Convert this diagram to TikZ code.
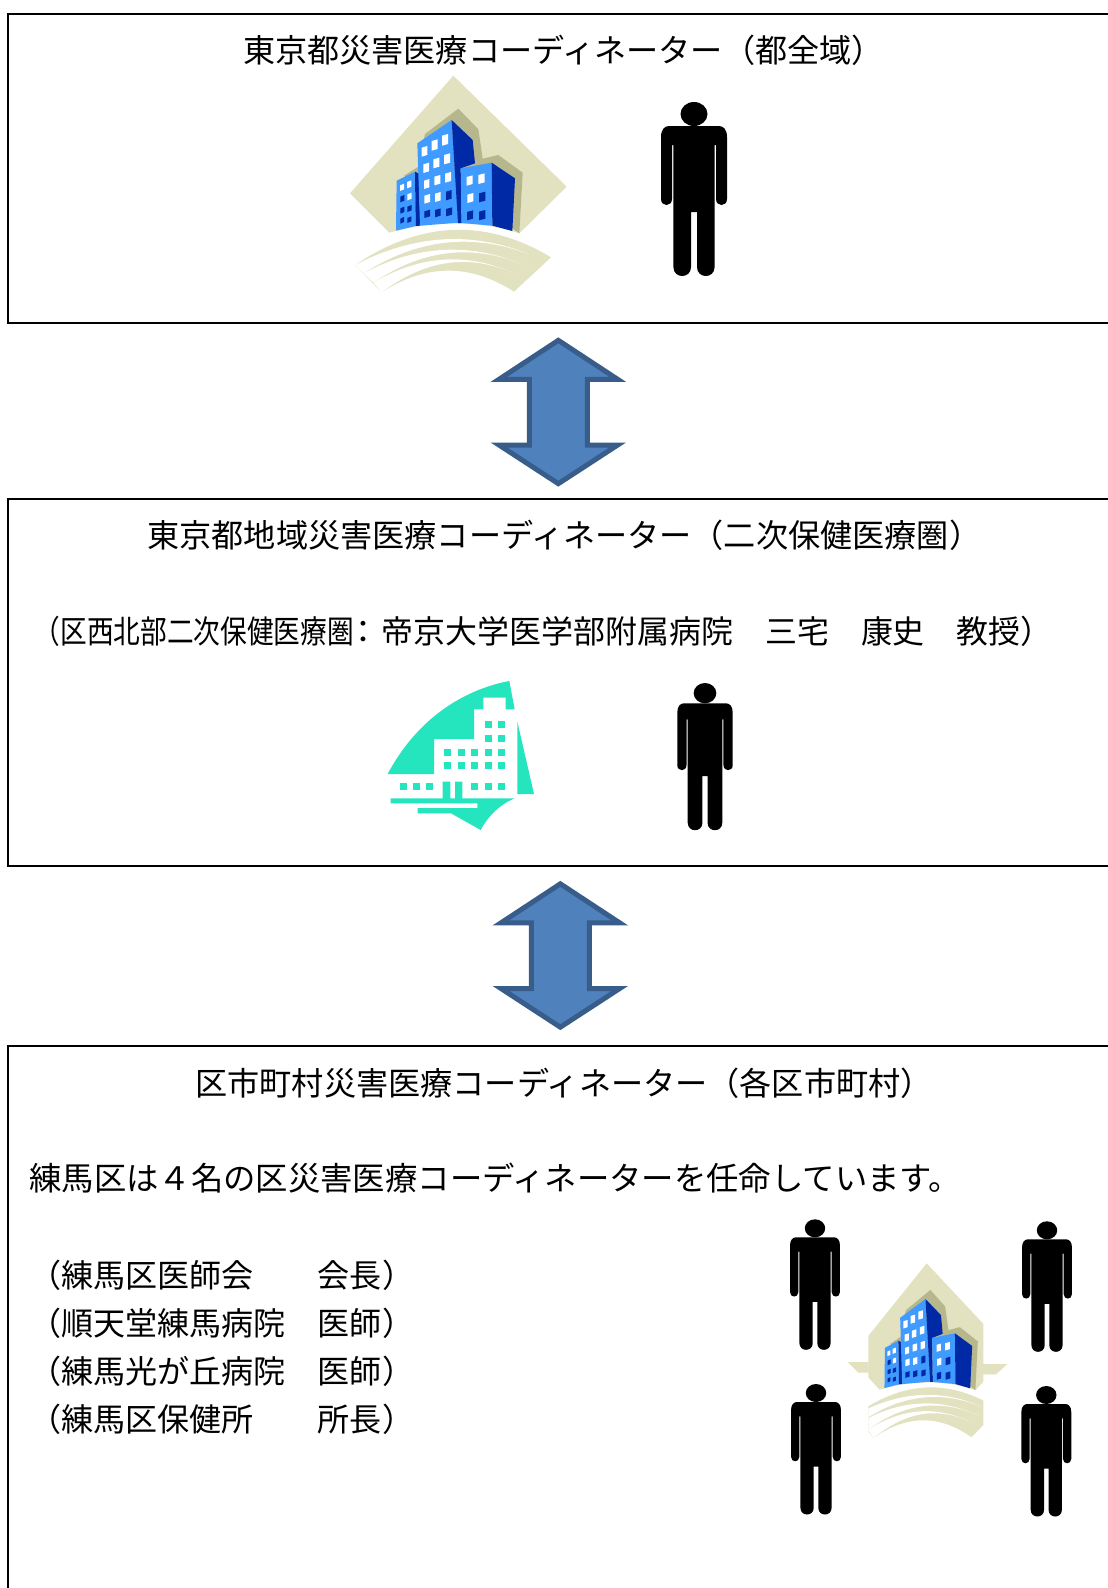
\documentclass[tikz,border=0pt]{standalone}
\usepackage{fontspec}
\setmainfont{Noto Sans CJK JP}
\definecolor{beige}{HTML}{E2E1C0}
\definecolor{bldgshadow}{HTML}{B7B78E}
\definecolor{lightblue}{HTML}{3F9BFF}
\definecolor{darkblue}{HTML}{0029A6}
\definecolor{teal1}{HTML}{24E5BE}
\definecolor{arrowfill}{HTML}{4F81BD}
\definecolor{arrowline}{HTML}{385D8A}
\newcommand{\figman}[4]{%
\begin{scope}[shift={(#1,#2)},xscale=#3,yscale=#4]
\fill[black] (0,12) ellipse [x radius=13.5,y radius=12];
\fill[black] (-33,35) .. controls (-33,27) and (-29,24) .. (-25,24) -- (25,24) .. controls (29,24) and (33,27) .. (33,35)
 -- (33,97) .. controls (33,105) and (22,105) .. (22,97) -- (22,43) -- (20.6,43) -- (20.6,165)
 .. controls (20.6,177) and (3,177) .. (3,165) -- (3,110) -- (-3,110) -- (-3,165)
 .. controls (-3,177) and (-20.6,177) .. (-20.6,165) -- (-20.6,43) -- (-22,43) -- (-22,97)
 .. controls (-22,105) and (-33,105) .. (-33,97) -- cycle;
\end{scope}}
\newcommand{\win}[5]{\fill[#1] (#2,#4) -- (#3,#4-5) -- (#3,#4-5+#5) -- (#2,#4+#5) -- cycle;}
\newcommand{\bldg}{%
\fill[beige] (370,47) -- (710,380) -- (568,520) .. controls (440,478) and (300,485) .. (178,518) -- (60,400) -- cycle;
\fill[bldgshadow] (285,222) -- (385,146) -- (445,208) -- (458,296) -- (505,285) -- (578,338) -- (568,520) -- (547,505) -- (300,420) -- (222,347) -- (265,320) -- cycle;
% left block
\fill[lightblue] (200,362) -- (255,335) -- (257,498) -- (198,512) -- cycle;
\fill[darkblue] (255,335) -- (268,342) -- (270,497) -- (257,498) -- cycle;
% middle block
\fill[lightblue] (262,250) -- (365,180) -- (385,488) -- (270,497) -- cycle;
\fill[darkblue] (365,180) -- (428,240) -- (435,310) -- (392,325) -- (395,489) -- (384,489) -- cycle;
% right block
\fill[lightblue] (392,325) -- (485,308) -- (487,497) -- (395,489) -- cycle;
\fill[darkblue] (485,308) -- (555,355) -- (547,513) -- (487,497) -- cycle;
% windows, middle
\win{white}{275}{292}{263}{27}\win{white}{305}{323}{243}{29}\win{white}{336}{354}{227}{30}
\win{white}{280}{297}{313}{26}\win{white}{310}{328}{298}{27}\win{white}{342}{360}{285}{28}
\win{white}{282}{298}{362}{25}\win{white}{313}{331}{350}{26}\win{white}{345}{363}{341}{27}
\win{white}{283}{300}{407}{24}\win{white}{315}{332}{401}{25}\win{darkblue}{348}{365}{395}{26}
\win{darkblue}{283}{300}{454}{20}\win{darkblue}{315}{332}{450}{22}\win{darkblue}{348}{366}{447}{22}
% windows, right
\win{white}{410}{428}{351}{26}\win{white}{445}{464}{345}{27}
\win{white}{412}{430}{404}{25}\win{darkblue}{447}{466}{400}{27}
\win{darkblue}{411}{429}{456}{25}\win{darkblue}{447}{466}{455}{26}
% windows, left
\win{white}{210}{222}{376}{17}\win{white}{231}{244}{366}{19}
\win{darkblue}{211}{223}{410}{17}\win{white}{232}{245}{403}{18}
\win{darkblue}{211}{223}{445}{16}\win{darkblue}{232}{245}{440}{16}
\win{darkblue}{211}{222}{476}{15}\win{darkblue}{232}{244}{474}{15}
% swoosh
\fill[beige] (75,615) .. controls (272.3,482.3) and (468.3,474.7) .. (663,592) -- (552,695) .. controls (420.7,610.3) and (288.3,611) .. (155,697) -- cycle;
\fill[white] (75,615) .. controls (251.7,523.7) and (425,512.7) .. (595,582) .. controls (425,518) and (260,537.3) .. (100,640) -- cycle;
\fill[white] (100,640) .. controls (260,554.7) and (421.3,546.3) .. (582,615) .. controls (427.3,550.3) and (276.7,568) .. (130,668) -- cycle;
\fill[white] (130,668) .. controls (270,585.3) and (410.7,576) .. (552,640) .. controls (417.3,580) and (285,599) .. (155,697) -- cycle;
}
\newcommand{\dblarrow}[2]{%
\begin{scope}[shift={(#1,#2)},xscale=1/3,yscale=1/3]
\path[fill=arrowfill,draw=arrowline,line width=5pt,miter limit=10]
 (265,61) -- (443,178) -- (352,178) -- (352,375) -- (443,375) -- (265,491) -- (87,375) -- (178,375) -- (178,178) -- (87,178) -- cycle;
\end{scope}}
\tikzset{
  boxline/.style={draw=black,line width=2.3pt,line join=miter},
  textline/.style={anchor=base west,inner sep=0pt,outer sep=0pt,font=\fontsize{32.15pt}{34pt}\selectfont,text=black},
  listline/.style={textline,font=\fontsize{32.05pt}{34pt}\selectfont}
}
\begin{document}
\begin{tikzpicture}[x=1pt,y=-1pt]
\useasboundingbox (0,0) rectangle (1108,1588);
% frames
\draw[boxline] (1108,14) -- (8,14) -- (8,323) -- (1108,323);
\draw[boxline] (1108,499) -- (8,499) -- (8,866) -- (1108,866);
\draw[boxline] (1108,1046) -- (8,1046) -- (8,1588);
% arrows
\dblarrow{470}{320}
\dblarrow{472}{863.5}
% top
\node[textline] (t1) at (243,62) {東京都災害医療コーディネーター（都全域）};
\begin{scope}[shift={(330,60)},xscale=1/3,yscale=1/3]\bldg\end{scope}
\figman{694}{102}{1}{1}
% middle
\node[textline] (t2) at (147.5,547) {東京都地域災害医療コーディネーター（二次保健医療圏）};
\node[listline,font=\fontsize{31.95pt}{34pt}\selectfont] (t2b) at (33.7,643) {\scalebox{0.835}[1]{（区西北部二次保健医療圏}\kern-6pt ：\kern2pt 帝京大学医学部附属病院　三宅　康史　教授）};
\begin{scope}[shift={(370,670)},xscale=1/3,yscale=1/3]
\fill[teal1] (53,312) .. controls (150,130) and (300,55) .. (418,33) -- (434,118) -- (407,118) -- (407,83) -- (340,83) -- (340,118) -- (312,118) -- (312,207) -- (192,207) -- (192,312) -- cycle;
\fill[teal1] (442,155) -- (492,372) -- (442,372) -- cycle;
\fill[teal1] (62,385) -- (218,385) -- (218,335) -- (241,335) -- (241,385) -- (255,385) -- (255,335) -- (277,335) -- (277,385) -- (434,385)
 .. controls (385,405) and (350,445) .. (332,480) -- (243,430) -- (143,430) -- (143,414) -- (322,414) -- (322,400) -- (62,400) -- cycle;
\foreach \x/\y in {345/152,384/152,345/195,384/195,222/237,264/237,303/237,345/237,384/237,222/276,264/276,303/276,345/276,384/276,90/339,129/339,168/339,303/339,345/339,384/339}
  \fill[teal1] (\x,\y) rectangle ++(21,21);
\end{scope}
\figman{705}{683}{0.84}{0.846}
% bottom
\node[textline] (t3) at (195.5,1095) {区市町村災害医療コーディネーター（各区市町村）};
\node[textline,font=\fontsize{32.35pt}{34pt}\selectfont] (t4) at (29.5,1190) {練馬区は４名の区災害医療コーディネーターを任命しています。};
\node[listline] (l1) at (29.5,1287) {（練馬区医師会　　会長）};
\node[listline] (l2) at (29.5,1335) {（順天堂練馬病院　医師）};
\node[listline] (l3) at (29.5,1383) {（練馬光が丘病院　医師）};
\node[listline] (l4) at (29.5,1431) {（練馬区保健所　　所長）};
\figman{815}{1219.3}{0.757}{0.75}
\figman{1047}{1221.3}{0.757}{0.75}
\figman{816}{1384}{0.757}{0.75}
\figman{1046.3}{1386}{0.757}{0.75}
\begin{scope}[shift={(835.8,1250.7)},xscale=0.2457,yscale=0.2683]
\begin{scope}
\clip (132.6,0) rectangle (600.7,800);
\bldg
\end{scope}
\end{scope}
\begin{scope}[shift={(770,1200)},xscale=1/3,yscale=1/3]
\fill[beige] (233,486) -- (296,486) -- (296,518) -- (265,518) -- cycle;
\fill[beige] (639,492) -- (712,492) -- (678,523) -- (639,523) -- cycle;
\end{scope}
\end{tikzpicture}
\end{document}
